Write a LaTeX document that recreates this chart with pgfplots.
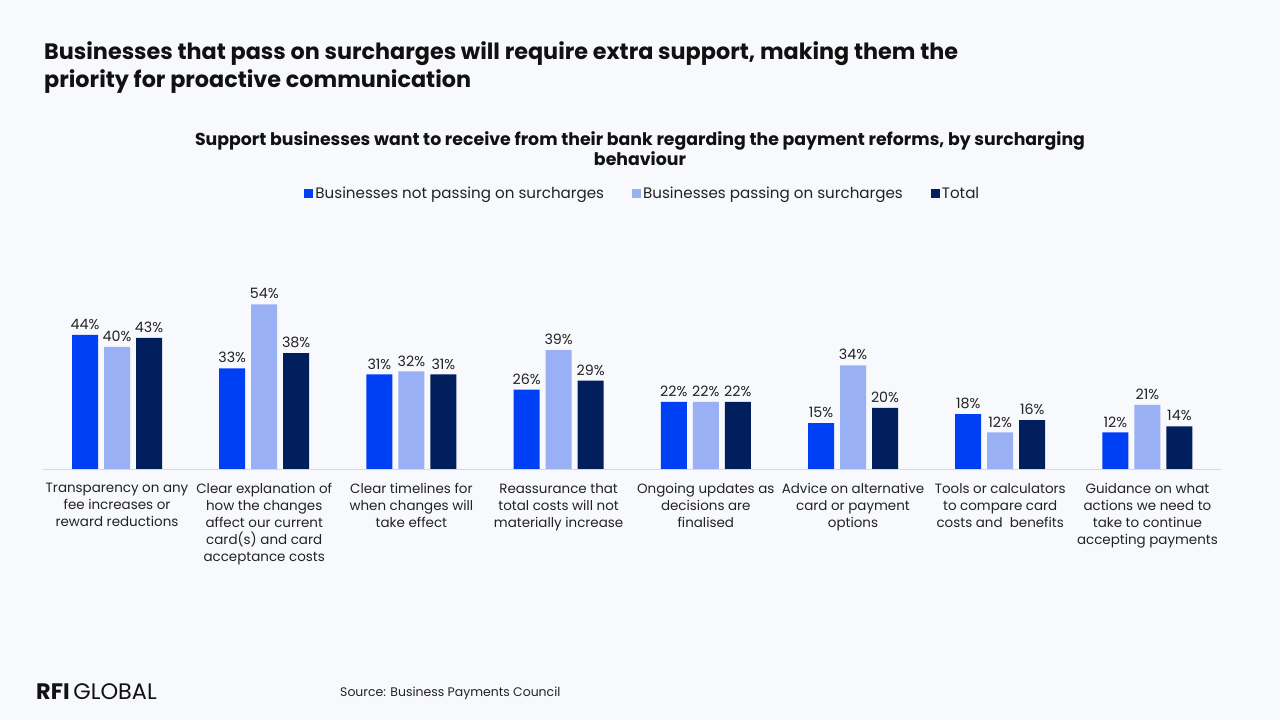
\documentclass[border=0pt]{standalone}
\usepackage{fontspec}
\setmainfont{Poppins}
\usepackage{pgfplots}
\pgfplotsset{compat=1.18}
\definecolor{bg}{HTML}{F8F9FD}
\definecolor{cA}{HTML}{0040F5}
\definecolor{cB}{HTML}{99B0F5}
\definecolor{cC}{HTML}{001F5C}
\definecolor{txt}{HTML}{222222}
\definecolor{ttl}{HTML}{111111}
\begin{document}
\begin{tikzpicture}[x=1bp,y=1bp]
\fill[bg] (0,0) rectangle (1280,720);
\node[anchor=north west, align=left, inner sep=0, text=ttl, font=\bfseries\fontsize{22.4}{29}\selectfont] at (44,679) {Businesses that pass on surcharges will require extra support, making them the\\priority for proactive communication};
\node[anchor=north, align=center, inner sep=0, text=ttl, font=\bfseries\fontsize{17.4}{21}\selectfont] at (640,589) {Support businesses want to receive from their bank regarding the payment reforms, by surcharging\\behaviour};
\node[anchor=west, inner sep=0, text=ttl, font=\fontsize{22.5}{26}\selectfont] at (36,28) {\textbf{RFI}\,GLOBAL};
\node[anchor=west, inner sep=0, text=txt, font=\fontsize{12.5}{15}\selectfont] at (340,27) {Source: Business Payments Council};
\begin{axis}[
  at={(43.4bp,251bp)}, anchor=south west, scale only axis,
  width=1177.6bp, height=183bp,
  ymin=0, ymax=60, xmin=-0.5, xmax=7.5,
  ybar=6bp, bar width=26bp,
  axis x line*=bottom, axis y line=none,
  x axis line style={draw=black!15, line width=0.8pt},
  xtick=data, xtick style={draw=none}, ytick=\empty,
  xticklabels={{Transparency on any\\fee increases or\\reward reductions},
    {Clear explanation of\\how the changes\\affect our current\\card(s) and card\\acceptance costs},
    {Clear timelines for\\when changes will\\take effect},
    {Reassurance that\\total costs will not\\materially increase},
    {Ongoing updates as\\decisions are\\finalised},
    {Advice on alternative\\card or payment\\options},
    {Tools or calculators\\to compare card\\costs and\ \ benefits},
    {Guidance on what\\actions we need to\\take to continue\\accepting payments}},
  xticklabel style={align=center, text=txt, font=\fontsize{13.5}{17}\selectfont, anchor=north, inner sep=0, yshift=-10bp},
  nodes near coords={\pgfmathprintnumber[assume math mode=true]{\pgfplotspointmeta}\%},
  nodes near coords style={text=txt, font=\fontsize{14.3}{16}\selectfont, inner sep=2bp, yshift=3bp},
  legend columns=3,
  legend style={at={(0.509,1.505)}, anchor=center, draw=none, fill=none, font=\fontsize{15.2}{18}\selectfont, text=txt, /tikz/every even column/.append style={column sep=26bp}},
  legend image code/.code={\fill[#1] (1bp,-4.5bp) rectangle (10bp,4.5bp);},
  clip=false,
]
\addplot[fill=cA, draw=none] coordinates {(0,44) (1,33) (2,31) (3,26) (4,22) (5,15) (6,18) (7,12)};
\addplot[fill=cB, draw=none] coordinates {(0,40) (1,54) (2,32) (3,39) (4,22) (5,34) (6,12) (7,21)};
\addplot[fill=cC, draw=none] coordinates {(0,43) (1,38) (2,31) (3,29) (4,22) (5,20) (6,16) (7,14)};
\legend{Businesses not passing on surcharges, Businesses passing on surcharges, Total}
\end{axis}
\end{tikzpicture}
\end{document}
